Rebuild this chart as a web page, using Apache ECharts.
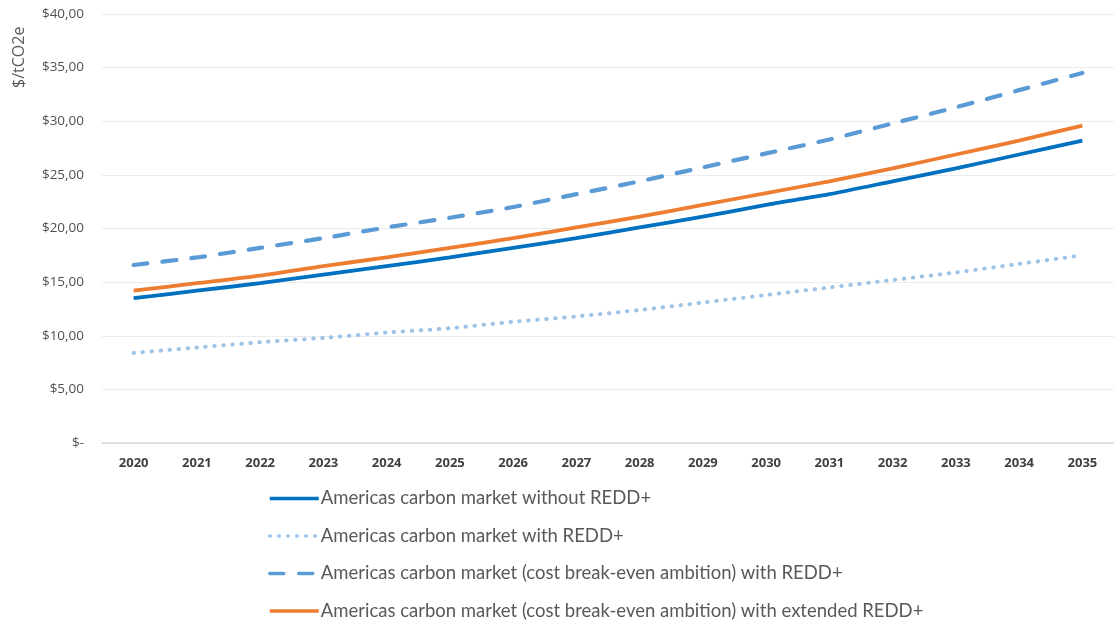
<!DOCTYPE html>
<html>
<head>
<meta charset="utf-8">
<script src="https://cdn.jsdelivr.net/npm/echarts@6/dist/echarts.min.js"></script>
<style>html,body{margin:0;padding:0;background:#fff;}#c{width:1114px;height:623px;}</style>
</head>
<body>
<div id="c"></div>
<script>
const years = ['2020','2021','2022','2023','2024','2025','2026','2027','2028','2029','2030','2031','2032','2033','2034','2035'];
const withoutREDD = [13.5, 14.2, 14.9, 15.7, 16.5, 17.3, 18.2, 19.1, 20.1, 21.1, 22.2, 23.2, 24.4, 25.6, 26.9, 28.2];
const withREDD = [8.4, 8.9, 9.4, 9.8, 10.3, 10.7, 11.3, 11.8, 12.4, 13.1, 13.8, 14.5, 15.2, 15.9, 16.7, 17.5];
const breakEvenREDD = [16.6, 17.3, 18.2, 19.1, 20.1, 21.0, 22.0, 23.2, 24.4, 25.7, 27.0, 28.3, 29.8, 31.3, 32.9, 34.5];
const breakEvenExtREDD = [14.2, 14.9, 15.6, 16.5, 17.3, 18.2, 19.1, 20.1, 21.1, 22.2, 23.3, 24.4, 25.6, 26.9, 28.2, 29.6];
const seriesNames = [
  'Americas carbon market without REDD+',
  'Americas carbon market with REDD+',
  'Americas carbon market (cost break-even ambition) with REDD+',
  'Americas carbon market (cost break-even ambition) with extended REDD+'
];
const yTicks = [0, 5, 10, 15, 20, 25, 30, 35, 40];

const chart = echarts.init(document.getElementById('c'));
const font = 'Open Sans';
chart.setOption({
  animation: false,
  backgroundColor: '#fff',
  grid: { left: 102, right: 0, top: 14, bottom: 180, containLabel: false },
  xAxis: {
    type: 'category',
    data: years,
    boundaryGap: true,
    axisLine: { lineStyle: { color: '#d9d9d9', width: 1.5 } },
    axisTick: { show: false },
    axisLabel: { color: '#404040', fontFamily: font, fontWeight: 'bold', fontSize: 13, margin: 14 }
  },
  yAxis: {
    type: 'value',
    min: yTicks[0],
    max: yTicks[yTicks.length - 1],
    interval: 5,
    axisLine: { show: false },
    axisTick: { show: false },
    splitLine: { lineStyle: { color: '#ececec', width: 1 } },
    axisLabel: {
      color: '#505050', fontFamily: font, fontSize: 13.5, margin: 18,
      formatter: v => v === 0 ? '$-' : '$' + v.toFixed(2).replace('.', ',')
    }
  },
  graphic: [{
    type: 'text',
    x: 11, y: 88,
    rotation: Math.PI / 2,
    style: { text: '$/tCO2e', fill: '#595959', font: '16px "Open Sans"', textAlign: 'left', textVerticalAlign: 'top' }
  }],
  legend: {
    orient: 'vertical',
    left: 268,
    top: 489,
    height: 400,
    padding: 0,
    itemWidth: 49,
    itemHeight: 14,
    itemGap: 18.5,
    itemStyle: { opacity: 0 },
    lineStyle: { width: 3.5 },
    textStyle: { color: '#595959', fontFamily: 'Lato', fontSize: 18.5, lineHeight: 18, padding: [0, 0, 0, -3] },
    data: seriesNames
  },
  series: [
    { name: seriesNames[0], type: 'line', data: withoutREDD, symbol: 'none', smooth: 0.2,
      lineStyle: { color: '#0070C0', width: 3.8 }, itemStyle: { color: '#0070C0' } },
    { name: seriesNames[1], type: 'line', data: withREDD, symbol: 'none', smooth: 0.2,
      lineStyle: { color: '#9DC3E6', width: 4, type: [0.5, 8.5], cap: 'round' }, itemStyle: { color: '#9DC3E6' } },
    { name: seriesNames[2], type: 'line', data: breakEvenREDD, symbol: 'none', smooth: 0.2,
      lineStyle: { color: '#5B9BD5', width: 4.2, type: [14, 15], cap: 'round' }, itemStyle: { color: '#5B9BD5' } },
    { name: seriesNames[3], type: 'line', data: breakEvenExtREDD, symbol: 'none', smooth: 0.2,
      lineStyle: { color: '#ED7D31', width: 3.8 }, itemStyle: { color: '#ED7D31' } }
  ]
});
</script>
</body>
</html>
